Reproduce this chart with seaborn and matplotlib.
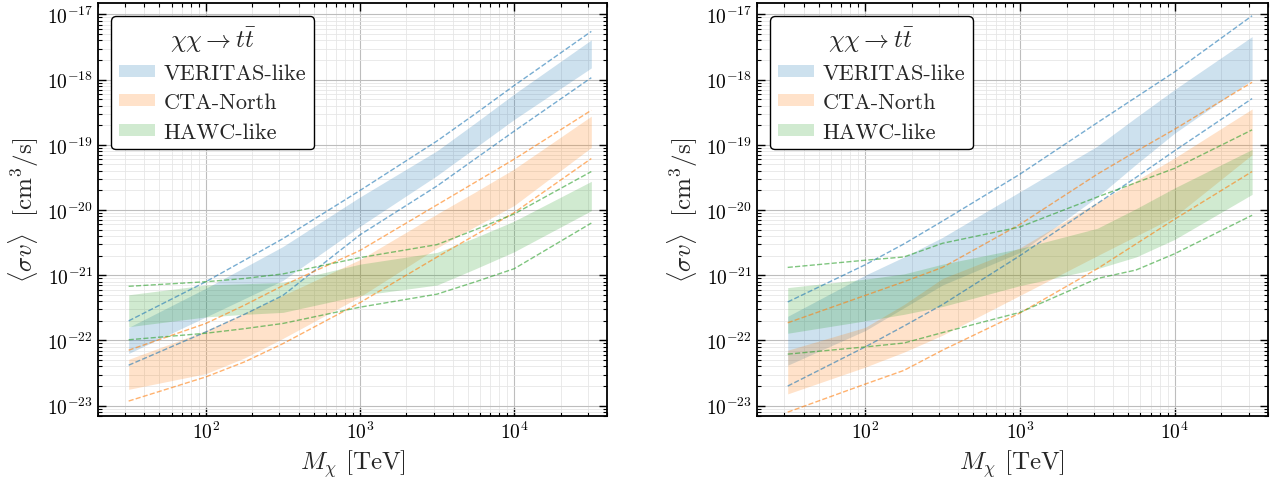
import numpy as np
import pandas as pd
import matplotlib
matplotlib.use("Agg")
import matplotlib.pyplot as plt
from matplotlib.ticker import LogLocator, NullFormatter, FixedLocator
import seaborn as sns

# ---------------- data (log10 of <sigma v> in cm^3/s) ----------------
masses = [31.6, 100, 178, 316, 1000, 3162, 5623, 10000, 31623]  # TeV

series_names = ["VERITAS-like", "CTA-North", "HAWC-like"]

x_major_ticks = [1e2, 1e3, 1e4]
y_major_ticks = [1e-23, 1e-22, 1e-21, 1e-20, 1e-19, 1e-18, 1e-17]

# Left panel
left_veritas_dash_hi = [-21.70, -21.10, -20.77, -20.44, -19.70, -18.94, -18.52, -18.09, -17.26]
left_veritas_band_hi = [-21.80, -21.20, -20.88, -20.56, -19.80, -19.09, -18.66, -18.22, -17.39]
left_veritas_band_lo = [-22.20, -21.64, -21.36, -21.08, -20.25, -19.47, -19.04, -18.61, -17.82]
left_veritas_dash_lo = [-22.38, -21.87, -21.60, -21.31, -20.38, -19.63, -19.21, -18.79, -17.97]

left_cta_dash_hi = [-22.15, -21.74, -21.46, -21.16, -20.62, -19.92, -19.57, -19.22, -18.47]
left_cta_band_hi = [-22.29, -21.85, -21.58, -21.31, -20.76, -20.06, -19.72, -19.37, -18.56]
left_cta_band_lo = [-22.75, -22.51, -22.27, -21.97, -21.33, -20.58, -20.25, -19.93, -19.04]
left_cta_dash_lo = [-22.93, -22.56, -22.33, -22.05, -21.42, -20.72, -20.38, -20.04, -19.21]

left_hawc_dash_hi = [-21.17, -21.10, -21.05, -20.98, -20.73, -20.53, -20.30, -20.06, -19.41]
left_hawc_band_hi = [-21.30, -21.15, -21.13, -21.11, -20.83, -20.65, -20.42, -20.17, -19.56]
left_hawc_band_lo = [-21.79, -21.64, -21.60, -21.57, -21.31, -21.15, -20.90, -20.64, -20.01]
left_hawc_dash_lo = [-21.99, -21.89, -21.82, -21.74, -21.49, -21.29, -21.10, -20.90, -20.20]

# Right panel
right_veritas_dash_hi = [-21.41, -20.84, -20.52, -20.17, -19.45, -18.66, -18.27, -17.88, -17.02]
right_veritas_band_hi = [-21.63, -21.00, -20.72, -20.42, -19.72, -19.02, -18.58, -18.15, -17.34]
right_veritas_band_lo = [-22.38, -21.85, -21.50, -21.15, -20.65, -19.80, -19.30, -18.82, -18.00]
right_veritas_dash_lo = [-22.70, -22.10, -21.78, -21.45, -20.70, -19.90, -19.50, -19.09, -18.29]

right_cta_dash_hi = [-21.73, -21.31, -21.10, -20.88, -20.22, -19.45, -19.10, -18.76, -18.04]
right_cta_band_hi = [-22.15, -21.80, -21.45, -21.05, -20.58, -19.88, -19.55, -19.20, -18.45]
right_cta_band_lo = [-22.82, -22.41, -22.18, -21.92, -21.31, -20.70, -20.40, -20.10, -19.15]
right_cta_dash_lo = [-23.10, -22.67, -22.46, -22.15, -21.58, -20.90, -20.52, -20.14, -19.41]

right_hawc_dash_hi = [-20.88, -20.77, -20.72, -20.51, -20.26, -19.80, -19.58, -19.36, -18.77]
right_hawc_band_hi = [-21.19, -21.06, -20.98, -20.83, -20.59, -20.28, -19.98, -19.66, -19.07]
right_hawc_band_lo = [-21.89, -21.70, -21.60, -21.48, -21.16, -20.90, -20.72, -20.45, -19.76]
right_hawc_dash_lo = [-22.21, -22.10, -22.04, -21.88, -21.57, -21.05, -20.92, -20.67, -20.08]

panels = [
    [
        (left_veritas_dash_hi, left_veritas_band_hi, left_veritas_band_lo, left_veritas_dash_lo),
        (left_cta_dash_hi, left_cta_band_hi, left_cta_band_lo, left_cta_dash_lo),
        (left_hawc_dash_hi, left_hawc_band_hi, left_hawc_band_lo, left_hawc_dash_lo),
    ],
    [
        (right_veritas_dash_hi, right_veritas_band_hi, right_veritas_band_lo, right_veritas_dash_lo),
        (right_cta_dash_hi, right_cta_band_hi, right_cta_band_lo, right_cta_dash_lo),
        (right_hawc_dash_hi, right_hawc_band_hi, right_hawc_band_lo, right_hawc_dash_lo),
    ],
]

# ---------------- style ----------------
sns.set_theme(style="ticks")
plt.rcParams.update({
    "font.family": "serif",
    "font.serif": ["cmr10"],
    "mathtext.fontset": "cm",
    "axes.formatter.use_mathtext": True,
    "axes.unicode_minus": False,
    "axes.edgecolor": "black",
    "axes.linewidth": 1.3,
    "xtick.direction": "in",
    "ytick.direction": "in",
    "xtick.top": True,
    "ytick.right": True,
    "xtick.color": "black",
    "ytick.color": "black",
    "xtick.major.size": 6,
    "ytick.major.size": 6,
    "xtick.minor.size": 3,
    "ytick.minor.size": 3,
    "xtick.major.width": 1.0,
    "ytick.major.width": 1.0,
    "xtick.minor.width": 0.8,
    "ytick.minor.width": 0.8,
    "xtick.labelsize": 14,
    "ytick.labelsize": 14,
})

colors = sns.color_palette("tab10")[:3]

fig = plt.figure(figsize=(12.78, 4.85), dpi=100)
axes = [
    fig.add_axes([0.0767, 0.1408, 0.3983, 0.851]),
    fig.add_axes([0.5923, 0.1408, 0.3998, 0.851]),
]

x = np.array(masses)
for ax, panel in zip(axes, panels):
    ax.set_xscale("log")
    ax.set_yscale("log")
    for name, col, (dhi, bhi, blo, dlo) in zip(series_names, colors, panel):
        ax.fill_between(x, 10.0 ** np.array(blo), 10.0 ** np.array(bhi),
                        color=col, alpha=0.22, lw=0, label=name)
        for arr in (dhi, dlo):
            df = pd.DataFrame({"m": x, "sv": 10.0 ** np.array(arr)})
            sns.lineplot(data=df, x="m", y="sv", ax=ax, color=col, linestyle="--",
                         lw=1.0, alpha=0.6, estimator=None, sort=False, legend=False)

    ax.set_xlim(20, 40000)
    ax.set_ylim(7e-24, 1.5e-17)
    ax.xaxis.set_major_locator(FixedLocator(x_major_ticks))
    ax.yaxis.set_major_locator(FixedLocator(y_major_ticks))
    ax.xaxis.set_minor_locator(LogLocator(base=10, subs=np.arange(2, 10), numticks=100))
    ax.yaxis.set_minor_locator(LogLocator(base=10, subs=np.arange(2, 10), numticks=100))
    ax.xaxis.set_minor_formatter(NullFormatter())
    ax.yaxis.set_minor_formatter(NullFormatter())
    ax.grid(True, which="major", color="#bdbdbd", lw=0.8)
    ax.grid(True, which="minor", color="#e6e6e6", lw=0.6)
    ax.set_axisbelow(True)
    ax.tick_params(which="both", direction="in", top=True, right=True)

    ax.set_xlabel(r"$M_\chi$ [TeV]", fontsize=18)
    ax.set_ylabel(r"$\langle\sigma v\rangle$  [cm$^3$/s]", fontsize=18)

    leg = ax.legend(title=r"$\chi\chi \to t\bar{t}$", loc="upper left",
                    fontsize=16, title_fontsize=18, frameon=True, fancybox=True,
                    framealpha=1.0, edgecolor="black", handlelength=1.6,
                    handleheight=0.45, handletextpad=0.4, labelspacing=0.45,
                    borderpad=0.35, borderaxespad=0.6)
    leg.get_frame().set_linewidth(1.0)

fig.savefig("out.png", dpi=100)
